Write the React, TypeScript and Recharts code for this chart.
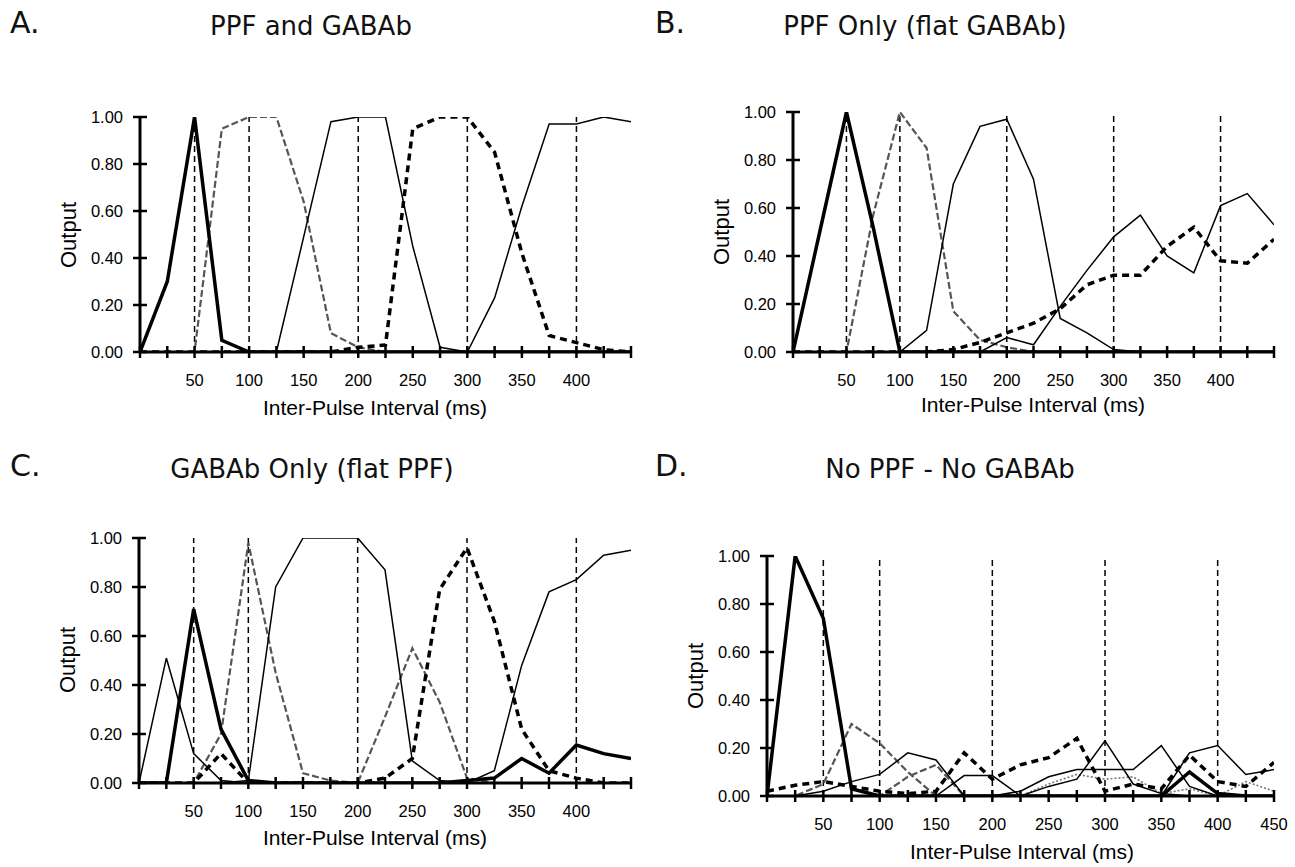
import React from 'react';
import { LineChart, Line, XAxis, YAxis, ReferenceLine } from 'recharts';

// Inter-pulse intervals (ms)
const IPI = [0, 25, 50, 75, 100, 125, 150, 175, 200, 225, 250, 275, 300, 325, 350, 375, 400, 425, 450];
const Y_TICKS = [0, 0.2, 0.4, 0.6, 0.8, 1.0];
const X_LABELS_ABC = [50, 100, 150, 200, 250, 300, 350, 400];
const X_LABELS_D = [50, 100, 150, 200, 250, 300, 350, 400, 450];
const GUIDE_LINES = [50, 100, 200, 300, 400];

// Panel A: PPF and GABAb
const aThick = [0, 0.30, 1.00, 0.05, 0, 0, 0, 0, 0, 0, 0, 0, 0, 0, 0, 0, 0, 0, 0];
const aWavy = [0, 0, 0, 0.95, 1.00, 1.00, 0.64, 0.08, 0.02, 0, 0, 0, 0, 0, 0, 0, 0, 0, 0];
const aThin1 = [0, 0, 0, 0, 0, 0, 0.49, 0.98, 1.00, 1.00, 0.45, 0.02, 0, 0, 0, 0, 0, 0, 0];
const aDashed = [0, 0, 0, 0, 0, 0, 0, 0, 0.02, 0.03, 0.95, 1.00, 1.00, 0.85, 0.42, 0.07, 0.04, 0.01, 0];
const aThin2 = [0, 0, 0, 0, 0, 0, 0, 0, 0, 0, 0, 0, 0, 0.23, 0.62, 0.97, 0.97, 1.00, 0.98];

// Panel B: PPF Only (flat GABAb)
const bThick = [0, 0.50, 1.00, 0.52, 0, 0, 0, 0, 0, 0, 0, 0, 0, 0, 0, 0, 0, 0, 0];
const bWavy = [0, 0, 0, 0.57, 1.00, 0.85, 0.17, 0.05, 0.02, 0, 0, 0, 0, 0, 0, 0, 0, 0, 0];
const bThin1 = [0, 0, 0, 0, 0, 0.09, 0.70, 0.94, 0.97, 0.72, 0.14, 0.08, 0.01, 0, 0, 0, 0, 0, 0];
const bDashed = [0, 0, 0, 0, 0, 0, 0.01, 0.04, 0.08, 0.12, 0.18, 0.28, 0.32, 0.32, 0.44, 0.52, 0.38, 0.37, 0.47];
const bThin2 = [0, 0, 0, 0, 0, 0, 0, 0, 0.06, 0.03, 0.19, 0.34, 0.48, 0.57, 0.40, 0.33, 0.61, 0.66, 0.53];

// Panel C: GABAb Only (flat PPF)
const cThin1 = [0, 0.51, 0.12, 0.01, 0, 0, 0, 0, 0, 0, 0, 0, 0, 0, 0, 0, 0, 0, 0];
const cThick = [0, 0, 0.71, 0.22, 0.01, 0, 0, 0, 0, 0, 0, 0, 0.01, 0.02, 0.10, 0.04, 0.155, 0.12, 0.10];
const cWavy1 = [0, 0, 0, 0.20, 0.98, 0.45, 0.04, 0.01, 0, 0, 0, 0, 0, 0, 0, 0, 0, 0, 0];
const cThin2 = [0, 0, 0, 0, 0.01, 0.80, 1.00, 1.00, 1.00, 0.87, 0.09, 0.01, 0, 0, 0, 0, 0, 0, 0];
const cWavy2 = [0, 0, 0, 0, 0, 0, 0, 0, 0, 0.27, 0.55, 0.33, 0.02, 0, 0, 0, 0, 0, 0];
const cDashed = [0, 0, 0, 0.12, 0, 0, 0, 0, 0, 0.02, 0.10, 0.79, 0.96, 0.66, 0.22, 0.05, 0.02, 0, 0];
const cThin3 = [0, 0, 0, 0, 0, 0, 0, 0, 0, 0, 0, 0, 0, 0.05, 0.48, 0.78, 0.83, 0.93, 0.95];

// Panel D: No PPF - No GABAb
const dThick = [0, 1.00, 0.74, 0.03, 0, 0, 0, 0, 0, 0, 0, 0, 0, 0, 0, 0.10, 0.01, 0, 0];
const dDashed = [0.02, 0.045, 0.06, 0.04, 0.02, 0.01, 0.02, 0.18, 0.07, 0.13, 0.16, 0.24, 0.02, 0.05, 0.03, 0.17, 0.06, 0.04, 0.14];
const dThin1 = [0, 0, 0.02, 0.06, 0.09, 0.18, 0.15, 0, 0, 0, 0, 0, 0, 0, 0, 0, 0, 0, 0];
const dThin2 = [0, 0, 0, 0, 0, 0, 0, 0.085, 0.085, 0, 0.04, 0.07, 0.23, 0.05, 0.01, 0, 0, 0, 0];
const dThin3 = [0, 0, 0, 0, 0, 0, 0, 0, 0, 0.02, 0.08, 0.11, 0.11, 0.11, 0.21, 0.04, 0, 0, 0];
const dThin4 = [0, 0, 0, 0, 0, 0, 0, 0, 0, 0, 0, 0, 0, 0, 0, 0.18, 0.21, 0.09, 0.11];
const dWavy1 = [0, 0, 0.05, 0.30, 0.22, 0.10, 0, 0, 0, 0, 0, 0, 0, 0, 0, 0, 0, 0, 0];
const dWavy2 = [0, 0, 0, 0, 0, 0.08, 0.13, 0, 0, 0, 0, 0, 0, 0, 0, 0, 0, 0, 0];
const dDotted = [0, 0, 0, 0, 0, 0, 0, 0, 0, 0, 0.05, 0.09, 0.07, 0.08, 0.01, 0.03, 0, 0.06, 0.02];

type StyleKey = 'thick' | 'thin' | 'dashed' | 'wavy' | 'dotted';
const STYLES: Record<StyleKey, any> = {
  thick: { stroke: '#000', strokeWidth: 3.5 },
  thin: { stroke: '#000', strokeWidth: 1.5 },
  dashed: { stroke: '#000', strokeWidth: 3.5, strokeDasharray: '7 5' },
  wavy: { stroke: '#555', strokeWidth: 2.2, strokeDasharray: '7 3' },
  dotted: { stroke: '#777', strokeWidth: 1.6, strokeDasharray: '2 2' },
};

type Series = { values: number[]; style: StyleKey };

const TICK_FONT = '"Liberation Sans", Arial, sans-serif';

function XTick(props: any) {
  const { x, y, payload, labels } = props;
  const v = payload.value;
  return (
    <g>
      <line x1={x} x2={x} y1={y - 6} y2={y + 6} stroke="#000" strokeWidth={2.5} />
      {labels.includes(v) && (
        <text x={x} y={y + 34} textAnchor="middle" fontFamily={TICK_FONT} fontSize={16.5} fill="#000">
          {v}
        </text>
      )}
    </g>
  );
}

function YTick(props: any) {
  const { x, y, payload } = props;
  return (
    <g>
      <line x1={x - 7} x2={x + 7} y1={y} y2={y} stroke="#000" strokeWidth={2.5} />
      <text x={x - 17} y={y + 6} textAnchor="end" fontFamily={TICK_FONT} fontSize={16.5} fill="#000">
        {Number(payload.value).toFixed(2)}
      </text>
    </g>
  );
}

type Box = { left: number; top: number; w: number; h: number };
type Plot = { x0: number; x1: number; y0: number; y1: number };

function Panel({ box, plot, series, xLabels }: { box: Box; plot: Plot; series: Series[]; xLabels: number[] }) {
  const yAxisW = 60;
  const xAxisH = 40;
  const margin = {
    left: plot.x0 - box.left - yAxisW,
    right: box.left + box.w - plot.x1,
    top: plot.y0 - box.top,
    bottom: box.top + box.h - plot.y1 - xAxisH,
  };
  const data = IPI.map((t, i) => {
    const row: any = { t };
    series.forEach((s, k) => {
      row['s' + k] = s.values[i];
    });
    return row;
  });
  return (
    <div style={{ position: 'absolute', left: box.left, top: box.top }}>
      <LineChart width={box.w} height={box.h} data={data} margin={margin}>
        <XAxis
          dataKey="t"
          type="number"
          domain={[0, 450]}
          ticks={IPI}
          interval={0}
          height={xAxisH}
          tickSize={0}
          tickMargin={0}
          tickLine={false}
          axisLine={{ stroke: '#000', strokeWidth: 3 }}
          tick={<XTick labels={xLabels} />}
          allowDataOverflow
        />
        <YAxis
          type="number"
          domain={[0, 1]}
          ticks={Y_TICKS}
          interval={0}
          width={yAxisW}
          tickSize={0}
          tickMargin={0}
          tickLine={false}
          axisLine={{ stroke: '#000', strokeWidth: 3 }}
          tick={<YTick />}
          allowDataOverflow
        />
        {GUIDE_LINES.map((g) => (
          <ReferenceLine key={g} x={g} stroke="#000" strokeWidth={1.5} strokeDasharray="6 4" ifOverflow="visible" />
        ))}
        {series.map((s, k) => (
          <Line
            key={k}
            dataKey={'s' + k}
            type="linear"
            dot={false}
            activeDot={false}
            isAnimationActive={false}
            {...STYLES[s.style]}
          />
        ))}
      </LineChart>
    </div>
  );
}

const TITLE_FONT = '"DejaVu Sans", Verdana, sans-serif';

export default function App() {
  return (
    <div style={{ position: 'absolute', left: 0, top: 0, width: 1295, height: 867, background: '#fff' }}>
      <Panel
        box={{ left: 0, top: 0, w: 647, h: 433 }}
        plot={{ x0: 140, x1: 631, y0: 117, y1: 352 }}
        xLabels={X_LABELS_ABC}
        series={[
          { values: aWavy, style: 'wavy' },
          { values: aThin1, style: 'thin' },
          { values: aThin2, style: 'thin' },
          { values: aDashed, style: 'dashed' },
          { values: aThick, style: 'thick' },
        ]}
      />
      <Panel
        box={{ left: 647, top: 0, w: 648, h: 433 }}
        plot={{ x0: 793, x1: 1274, y0: 112, y1: 352 }}
        xLabels={X_LABELS_ABC}
        series={[
          { values: bWavy, style: 'wavy' },
          { values: bThin1, style: 'thin' },
          { values: bThin2, style: 'thin' },
          { values: bDashed, style: 'dashed' },
          { values: bThick, style: 'thick' },
        ]}
      />
      <Panel
        box={{ left: 0, top: 433, w: 647, h: 434 }}
        plot={{ x0: 139, x1: 631, y0: 538, y1: 783 }}
        xLabels={X_LABELS_ABC}
        series={[
          { values: cWavy1, style: 'wavy' },
          { values: cWavy2, style: 'wavy' },
          { values: cThin1, style: 'thin' },
          { values: cThin2, style: 'thin' },
          { values: cThin3, style: 'thin' },
          { values: cDashed, style: 'dashed' },
          { values: cThick, style: 'thick' },
        ]}
      />
      <Panel
        box={{ left: 647, top: 433, w: 648, h: 434 }}
        plot={{ x0: 767, x1: 1274, y0: 556, y1: 796 }}
        xLabels={X_LABELS_D}
        series={[
          { values: dDotted, style: 'dotted' },
          { values: dWavy1, style: 'wavy' },
          { values: dWavy2, style: 'wavy' },
          { values: dThin1, style: 'thin' },
          { values: dThin2, style: 'thin' },
          { values: dThin3, style: 'thin' },
          { values: dThin4, style: 'thin' },
          { values: dDashed, style: 'dashed' },
          { values: dThick, style: 'thick' },
        ]}
      />
      <svg
        width={1295}
        height={867}
        style={{ position: 'absolute', left: 0, top: 0, pointerEvents: 'none' }}
      >
        <g fontFamily={TITLE_FONT} fill="#111">
          <text x={10} y={33} fontSize={30}>A.</text>
          <text x={311} y={35} fontSize={26} textAnchor="middle">PPF and GABAb</text>
          <text x={655} y={33} fontSize={30}>B.</text>
          <text x={925} y={35} fontSize={26} textAnchor="middle">PPF Only (flat GABAb)</text>
          <text x={10} y={476} fontSize={30}>C.</text>
          <text x={312} y={478} fontSize={26} textAnchor="middle">GABAb Only (flat PPF)</text>
          <text x={655} y={476} fontSize={30}>D.</text>
          <text x={950} y={478} fontSize={26} textAnchor="middle">No PPF - No GABAb</text>
        </g>
        <g fontFamily={TICK_FONT} fill="#000" fontSize={21}>
          <text x={375} y={415} textAnchor="middle">Inter-Pulse Interval (ms)</text>
          <text x={1033} y={412} textAnchor="middle">Inter-Pulse Interval (ms)</text>
          <text x={375} y={845} textAnchor="middle">Inter-Pulse Interval (ms)</text>
          <text x={1022} y={859} textAnchor="middle">Inter-Pulse Interval (ms)</text>
          <text transform="translate(76,235) rotate(-90)" textAnchor="middle" fontSize={22}>Output</text>
          <text transform="translate(729,232) rotate(-90)" textAnchor="middle" fontSize={22}>Output</text>
          <text transform="translate(75,660) rotate(-90)" textAnchor="middle" fontSize={22}>Output</text>
          <text transform="translate(703,676) rotate(-90)" textAnchor="middle" fontSize={22}>Output</text>
        </g>
      </svg>
    </div>
  );
}
